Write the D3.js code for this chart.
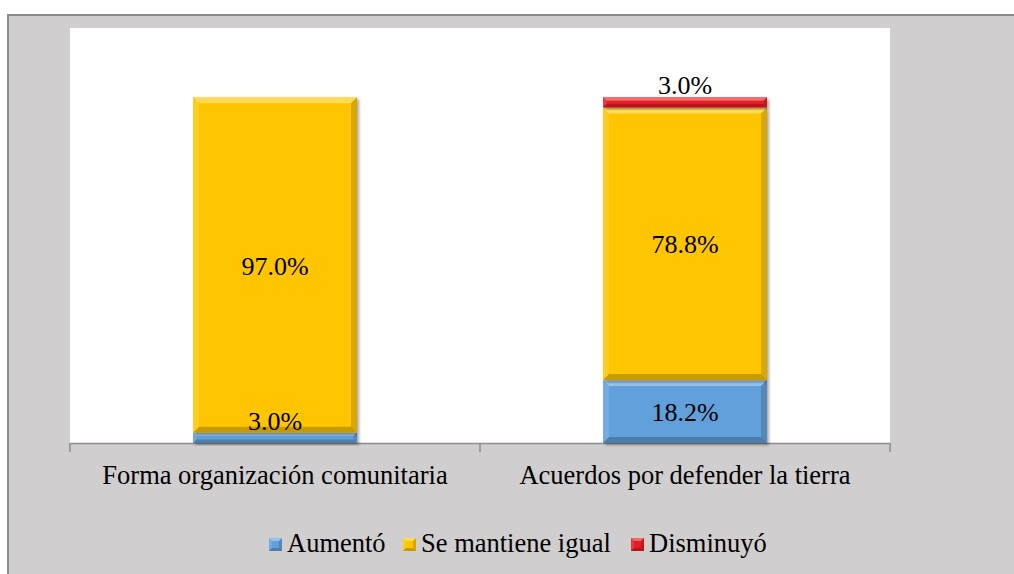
<!DOCTYPE html>
<html>
<head>
<meta charset="utf-8">
<script src="https://cdn.jsdelivr.net/npm/d3@7"></script>
<style>
  body { margin: 0; background: #fff; }
</style>
</head>
<body>
<script>
// data
const categories = ["Forma organización comunitaria", "Acuerdos por defender la tierra"];
const seriesNames = ["Aumentó", "Se mantiene igual", "Disminuyó"];
const aumento = [0.03, 0.182];
const seMantiene = [0.97, 0.788];
const disminuyo = [0, 0.03];
const colors = ["#62a0dc", "#ffc600", "#ea1a22"];

const font = "'Liberation Serif', 'Times New Roman', serif";
const width = 1014, height = 574;
const plot = {left: 70, right: 890, top: 28, bottom: 443};

const svg = d3.select("body").append("svg")
    .attr("width", width)
    .attr("height", height)
    .attr("font-family", font);

// drop shadow for the bars
const defs = svg.append("defs");
const f = defs.append("filter").attr("id", "shadow")
    .attr("x", "-10%").attr("y", "-10%").attr("width", "130%").attr("height", "130%");
f.append("feDropShadow").attr("dx", 2).attr("dy", 2).attr("stdDeviation", 1.5)
    .attr("flood-color", "#000").attr("flood-opacity", 0.35);

// chart background and border
svg.append("rect")
    .attr("x", 8).attr("y", 15)
    .attr("width", width + 10).attr("height", height + 10)
    .attr("fill", "#d0cece")
    .attr("stroke", "#8c8c8c")
    .attr("stroke-width", 2);

svg.append("rect")
    .attr("x", plot.left).attr("y", plot.top)
    .attr("width", plot.right - plot.left).attr("height", plot.bottom - plot.top)
    .attr("fill", "#fff");

const x = d3.scaleBand()
    .domain(categories)
    .range([plot.left, plot.right])
    .paddingInner(0.6)
    .paddingOuter(0.3);

const y = d3.scaleLinear()
    .domain([0, 1.2])
    .range([plot.bottom, plot.top]);

// stack the series
const rows = categories.map((c, i) => ({
    cat: c,
    "Aumentó": aumento[i],
    "Se mantiene igual": seMantiene[i],
    "Disminuyó": disminuyo[i]
}));
const stacked = d3.stack().keys(seriesNames)(rows);

// bevel drawing helper
function bevel(g, x0, y0, w, h, b) {
    const faces = [
        {pts: [[x0, y0], [x0 + w, y0], [x0 + w - b, y0 + b], [x0 + b, y0 + b]], fill: "#fff", op: 0.35},
        {pts: [[x0, y0 + h], [x0 + w, y0 + h], [x0 + w - b, y0 + h - b], [x0 + b, y0 + h - b]], fill: "#000", op: 0.22},
        {pts: [[x0, y0], [x0 + b, y0 + b], [x0 + b, y0 + h - b], [x0, y0 + h]], fill: "#fff", op: 0.12},
        {pts: [[x0 + w, y0], [x0 + w - b, y0 + b], [x0 + w - b, y0 + h - b], [x0 + w, y0 + h]], fill: "#000", op: 0.15}
    ];
    faces.forEach(fc => {
        g.append("polygon")
            .attr("points", fc.pts.map(p => p.join(",")).join(" "))
            .attr("fill", fc.fill)
            .attr("fill-opacity", fc.op);
    });
}

// axis line
const axis = svg.append("g")
    .attr("transform", `translate(0,${plot.bottom})`)
    .call(d3.axisBottom(x).tickSize(0).tickFormat(""));
axis.select(".domain").attr("stroke", "#8c8c8c").attr("stroke-width", 1.5);
const bounds = [plot.left, (x(categories[0]) + x.bandwidth() + x(categories[1])) / 2, plot.right];
axis.selectAll(".sep").data(bounds).enter().append("line")
    .attr("x1", d => d).attr("x2", d => d)
    .attr("y1", 0).attr("y2", 9)
    .attr("stroke", "#8c8c8c").attr("stroke-width", 1.5);

const bars = svg.append("g");
stacked.forEach((layer, si) => {
    layer.forEach((d, ci) => {
        const v = d[1] - d[0];
        if (v <= 0) return;
        const x0 = x(d.data.cat);
        const y0 = y(d[1]);
        const h = y(d[0]) - y(d[1]);
        const g = bars.append("g");
        g.append("rect")
            .attr("x", x0).attr("y", y0)
            .attr("width", x.bandwidth()).attr("height", h)
            .attr("fill", colors[si])
            .attr("filter", "url(#shadow)");
        bevel(g, x0, y0, x.bandwidth(), h, Math.min(6, h / 3));
    });
});

// value labels
const fmt = d3.format(".1%");
stacked.forEach((layer, si) => {
    layer.forEach(d => {
        const v = d[1] - d[0];
        if (v <= 0) return;
        const cx = x(d.data.cat) + x.bandwidth() / 2;
        const small = v < 0.05;
        svg.append("text")
            .attr("x", cx)
            .attr("y", small ? y(d[1]) - 3 : (y(d[0]) + y(d[1])) / 2)
            .attr("dy", small ? 0 : "0.37em")
            .attr("text-anchor", "middle")
            .attr("font-size", 26)
            .text(fmt(v));
    });
});

// category labels
svg.selectAll(".cat").data(categories).enter().append("text")
    .attr("x", d => x(d) + x.bandwidth() / 2)
    .attr("y", 484)
    .attr("text-anchor", "middle")
    .attr("font-size", 26.5)
    .text(d => d);

// legend
const legendX = [269, 403, 631];
const legend = svg.append("g");
seriesNames.forEach((name, i) => {
    const g = legend.append("g");
    g.append("rect")
        .attr("x", legendX[i]).attr("y", 538)
        .attr("width", 13).attr("height", 13)
        .attr("fill", colors[i]);
    bevel(g, legendX[i], 538, 13, 13, 3);
    g.append("text")
        .attr("x", legendX[i] + 18)
        .attr("y", 552)
        .attr("font-size", 26.5)
        .text(name);
});
</script>
</body>
</html>
